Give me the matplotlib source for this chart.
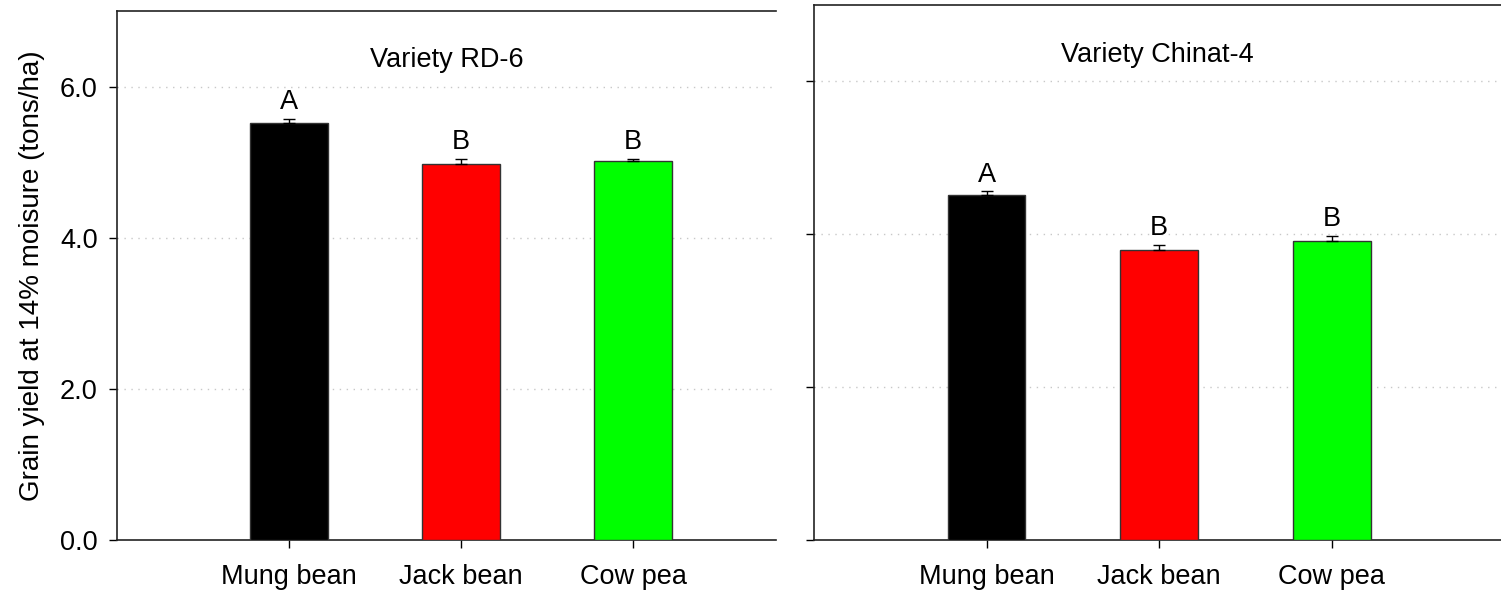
import matplotlib
matplotlib.use("Agg")
from matplotlib import pyplot as plt

plt.rcParams['font.family'] = ['Liberation Sans', 'DejaVu Sans']

# data
crops = ["Mung bean", "Jack bean", "Cow pea"]
bar_colors = ["#000000", "#ff0000", "#00ff00"]

rd6_yield = [5.52, 4.98, 5.01]
rd6_se = [0.05, 0.06, 0.03]
rd6_letters = ["A", "B", "B"]

chinat_yield = [4.51, 3.80, 3.91]
chinat_se = [0.05, 0.06, 0.07]
chinat_letters = ["A", "B", "B"]

fig = plt.figure(figsize=(15.01, 5.95), dpi=100)
ax1 = fig.add_axes([117 / 1501, 55 / 595, 659 / 1501, 529 / 595])
ax2 = fig.add_axes([814 / 1501, 55 / 595, 687 / 1501, 535 / 595])


def draw_panel(ax, values, errs, letters, title, xmax, show_labels):
    x = list(range(len(crops)))
    ax.bar(x, values, width=0.45, color=bar_colors, edgecolor="#333333",
           linewidth=1.0, zorder=3)
    ax.errorbar(x, values, yerr=[[0] * len(errs), errs], fmt="none",
                ecolor="black", elinewidth=1.0, capsize=4.5, capthick=1.0, zorder=4)
    for xi, v, e, lab in zip(x, values, errs, letters):
        ax.annotate(lab, (xi, v + e), xytext=(0, 7), textcoords="offset points",
                    ha="center", va="baseline", fontsize=19.5)
    ax.text(0.5, 0.907, title, transform=ax.transAxes, ha="center",
            va="center", fontsize=19.5)

    ax.set_xlim(-1.0, xmax)
    ax.set_ylim(0, 7)
    ax.set_yticks([0, 2, 4, 6])
    ax.set_xticks(x)
    ax.set_xticklabels(crops, fontsize=19.5)
    if show_labels:
        ax.set_yticklabels(["0.0", "2.0", "4.0", "6.0"], fontsize=19.5)
    else:
        ax.set_yticklabels([])
    ax.tick_params(axis="both", direction="out", length=6, width=1.0)
    ax.tick_params(axis="x", pad=11)
    ax.tick_params(axis="y", pad=8)

    # dotted grid at 2, 4, 6 only
    for g in [2, 4, 6]:
        ax.axhline(g, color="#c8c8c8", linestyle=(0, (1, 4)), linewidth=1.0, zorder=1)

    ax.spines["right"].set_visible(False)
    for s in ["left", "top", "bottom"]:
        ax.spines[s].set_linewidth(1.2)
        ax.spines[s].set_color("#222222")


draw_panel(ax1, rd6_yield, rd6_se, rd6_letters, "Variety RD-6", 2.83, True)
draw_panel(ax2, chinat_yield, chinat_se, chinat_letters, "Variety Chinat-4", 2.98, False)

ax1.set_ylabel("Grain yield at 14% moisure (tons/ha)", fontsize=20, labelpad=11)

fig.savefig("out.png", dpi=100)
